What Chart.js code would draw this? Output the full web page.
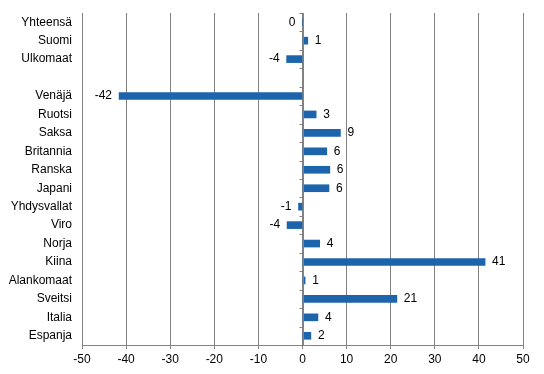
<!DOCTYPE html>
<html>
<head>
<meta charset="utf-8">
<script src="https://cdn.jsdelivr.net/npm/chart.js@4/dist/chart.umd.min.js"></script>
<style>
  html, body { margin: 0; padding: 0; background: #fff; }
  #wrap { width: 544px; height: 374px; position: relative; }
</style>
</head>
<body>
<div id="wrap"><canvas id="chart"></canvas></div>
<script>
const categories = [
  "Yhteensä", "Suomi", "Ulkomaat", "", "Venäjä", "Ruotsi", "Saksa", "Britannia",
  "Ranska", "Japani", "Yhdysvallat", "Viro", "Norja", "Kiina", "Alankomaat",
  "Sveitsi", "Italia", "Espanja",
];
const changeValues = [
  0, 1.2, -3.6, null, -41.6, 3.1, 8.6, 5.5,
  6.2, 6.0, -0.9, -3.5, 3.9, 41.4, 0.6,
  21.4, 3.5, 1.9,
];
const valueLabels = [
  "0", "1", "-4", "", "-42", "3", "9", "6",
  "6", "6", "-1", "-4", "4", "41", "1",
  "21", "4", "2",
];
const xTicks = [-50, -40, -30, -20, -10, 0, 10, 20, 30, 40, 50];

const palette = {
  bar: "#1c64ac",
  grid: "#828282",
  text: "#000000",
};
const fontSpec = { family: "'Liberation Sans', Arial, sans-serif", size: 12 };

// zero axis line with small tick marks between categories
const zeroAxis = {
  id: "zeroAxis",
  afterDatasetsDraw(chart) {
    const { ctx, scales: { x, y } } = chart;
    const x0 = Math.round(x.getPixelForValue(0)) + 0.5;
    ctx.save();
    ctx.strokeStyle = palette.grid;
    ctx.lineWidth = 1;
    ctx.beginPath();
    ctx.moveTo(x0, chart.chartArea.top);
    ctx.lineTo(x0, chart.chartArea.bottom);
    for (let i = 0; i <= categories.length; i++) {
      const yy = Math.round(y.getPixelForValue(i - 0.5)) + 0.5;
      ctx.moveTo(x0 - 4, yy);
      ctx.lineTo(x0, yy);
    }
    ctx.stroke();
    ctx.restore();
  },
};

const barLabels = {
  id: "barLabels",
  afterDatasetsDraw(chart) {
    const { ctx } = chart;
    const meta = chart.getDatasetMeta(0);
    const x = chart.scales.x;
    ctx.save();
    ctx.font = `${fontSpec.size}px ${fontSpec.family}`;
    ctx.fillStyle = palette.text;
    ctx.textBaseline = "middle";
    meta.data.forEach((bar, i) => {
      const v = changeValues[i];
      if (v === null || !valueLabels[i]) return;
      const end = x.getPixelForValue(v);
      if (v > 0) {
        ctx.textAlign = "left";
        ctx.fillText(valueLabels[i], end + 7, bar.y);
      } else {
        ctx.textAlign = "right";
        ctx.fillText(valueLabels[i], end - 7, bar.y);
      }
    });
    ctx.restore();
  },
};

new Chart(document.getElementById("chart"), {
  type: "bar",
  data: {
    labels: categories,
    datasets: [
      {
        data: changeValues,
        backgroundColor: palette.bar,
        borderWidth: 0,
        barThickness: 7,
      },
    ],
  },
  options: {
    indexAxis: "y",
    responsive: true,
    maintainAspectRatio: false,
    animation: false,
    layout: { padding: { left: 0, right: 21, top: 13, bottom: 4 } },
    plugins: {
      legend: { display: false },
      tooltip: { enabled: false },
    },
    scales: {
      x: {
        min: -50,
        max: 50,
        afterBuildTicks(scale) {
          scale.ticks = xTicks.map((value) => ({ value }));
        },
        grid: {
          color: palette.grid,
          drawTicks: true,
          tickLength: 4,
        },
        border: { display: true, color: palette.grid },
        ticks: {
          color: palette.text,
          font: fontSpec,
          padding: 3,
          maxRotation: 0,
        },
        afterFit(scale) {
          scale.height = 25;
        },
      },
      y: {
        grid: { display: false, drawTicks: false },
        border: { display: false },
        ticks: {
          color: palette.text,
          font: fontSpec,
          padding: 10,
          autoSkip: false,
        },
        afterFit(scale) {
          scale.width = 82;
          scale.paddingTop = 0;
          scale.paddingBottom = 0;
        },
      },
    },
  },
  plugins: [zeroAxis, barLabels],
});
</script>
</body>
</html>
